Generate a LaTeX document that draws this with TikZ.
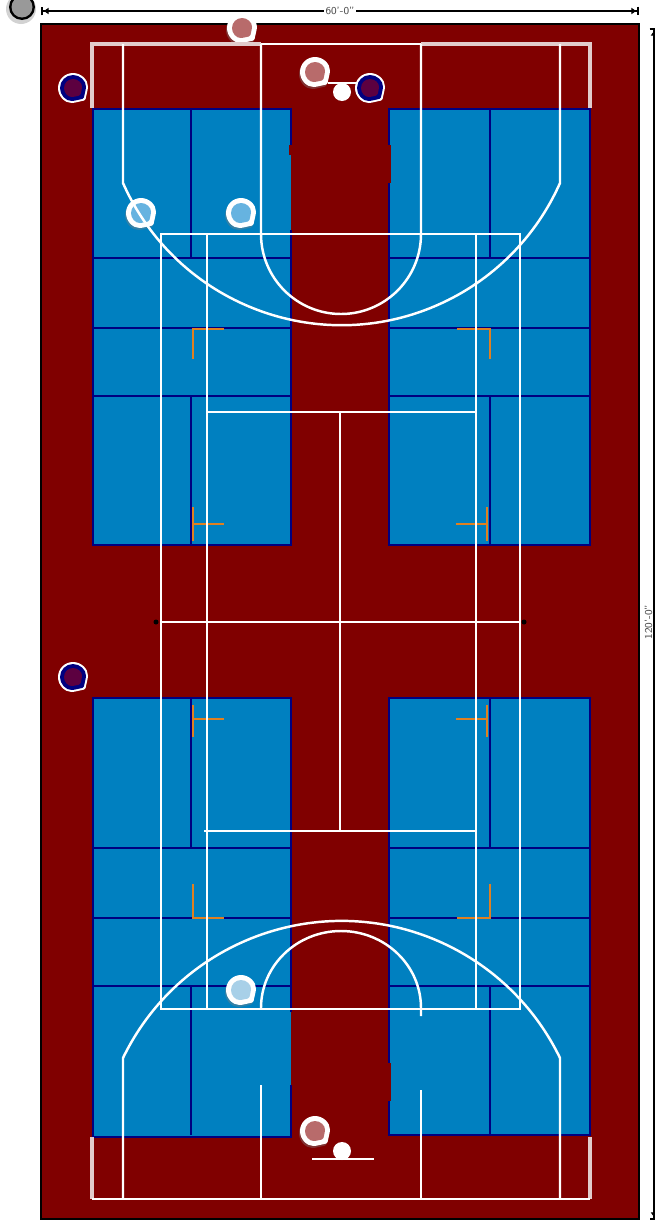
\documentclass[tikz,border=0pt]{standalone}
\usetikzlibrary{arrows.meta, positioning, calc}
\usepackage{xcolor}
\definecolor{courtcolor}{RGB}{128,0,0}
\definecolor{zonecolor}{RGB}{0,128,192}
\definecolor{zoneborder}{RGB}{0,0,128}
\definecolor{markcolor}{RGB}{224,128,32}
\definecolor{palecolor}{RGB}{226,204,204}
\definecolor{pinkcolor}{RGB}{184,107,107}
\definecolor{skycolor}{RGB}{102,179,224}
\definecolor{icecolor}{RGB}{168,208,232}
\definecolor{plumcolor}{RGB}{92,0,64}
\tikzset{
    zone/.style={fill=zonecolor},
    zoneline/.style={draw=zoneborder, line width=1.4pt},
    whiteline/.style={draw=white, line width=1.4pt},
    paleline/.style={draw=palecolor, line width=2pt},
    floormark/.style={draw=markcolor, line width=1.5pt},
    dimline/.style={draw=black, line width=1.3pt, {Bar[width=5pt]Latex[length=3pt,width=4pt]}-{Latex[length=3pt,width=4pt]Bar[width=5pt]}},
    dimlabel/.style={fill=white, inner sep=0.6pt, font=\sffamily\fontsize{6}{6.5}\selectfont, text=black!70},
    pics/tear/.style n args={2}{code={
        \fill[#2, rounded corners=0.8pt] (0,#1) arc[start angle=90, end angle=360, radius=#1] -- ({0.82*#1},{0.82*#1}) -- cycle;
    }}
}

\begin{document}
\begin{tikzpicture}[x=0.02cm, y=-0.02cm]
    \useasboundingbox (0,0) rectangle (655,1224);

    % Layer 1: court floor and dimensions
    \draw[fill=courtcolor, draw=black, line width=1.4pt] (41,24) rectangle (639,1219);
    \coordinate (dimTopL) at (41,11);
    \coordinate (dimTopR) at (639,11);
    \coordinate (dimSideT) at (654,28);
    \coordinate (dimSideB) at (654,1220);
    \draw[dimline] (dimTopL) -- node[dimlabel] (lblWidth) {60'-0"} (dimTopR);
    \draw[dimline] (dimSideT) -- (dimSideB);
    \node[dimlabel, rotate=90] (lblLength) at (648.5,622) {120'-0"};

    % Layer 2: blue zones
    \fill[zone] (93,109) rectangle (291,545);
    \fill[zone] (389,109) rectangle (590,545);
    \fill[zone] (93,698) rectangle (291,1137);
    \fill[zone] (389,698) rectangle (590,1135);

    % top zones, edges
    \draw[zoneline] (291,145) -- (291,109) -- (93,109) -- (93,545) -- (291,545) -- (291,230);
    \draw[zoneline] (389,145) -- (389,109) -- (590,109) -- (590,545) -- (389,545) -- (389,183);
    % bottom zones, edges
    \draw[zoneline] (291,1012) -- (291,698) -- (93,698) -- (93,1137) -- (291,1137) -- (291,1085);
    \draw[zoneline] (389,1063) -- (389,698) -- (590,698) -- (590,1135) -- (389,1135) -- (389,1101);
    % notches
    \fill[courtcolor] (289,145) rectangle (293,155);
    \fill[courtcolor] (387,145) rectangle (390.5,183);
    \fill[courtcolor] (387,1063) rectangle (390.5,1101);

    % inner zone lines
    \foreach \yy in {258,328,396,848,918,986} {
        \draw[zoneline] (93,\yy) -- (291,\yy);
        \draw[zoneline] (389,\yy) -- (590,\yy);
    }
    \foreach \xx in {191,490} {
        \draw[zoneline] (\xx,109) -- (\xx,258);
        \draw[zoneline] (\xx,396) -- (\xx,545);
        \draw[zoneline] (\xx,698) -- (\xx,848);
        \draw[zoneline] (\xx,986) -- (\xx,1135);
    }

    % Layer 3: orange marks
    \draw[floormark] (224,329) -- (193,329) -- (193,359);
    \draw[floormark] (457,329) -- (490,329) -- (490,359);
    \draw[floormark] (193,884) -- (193,918) -- (224,918);
    \draw[floormark] (490,884) -- (490,918) -- (457,918);
    \draw[floormark] (193,507) -- (193,541);
    \draw[floormark] (193,524) -- (224,524);
    \draw[floormark] (487,507) -- (487,541);
    \draw[floormark] (487,524) -- (456,524);
    \draw[floormark] (193,705) -- (193,737);
    \draw[floormark] (193,719) -- (224,719);
    \draw[floormark] (487,705) -- (487,737);
    \draw[floormark] (487,719) -- (456,719);

    % Layer 4: markers
    \foreach \mx/\my/\mfill in {315/72/pinkcolor, 242/28/pinkcolor, 315/1131/pinkcolor,
                                141/213/skycolor, 241/213/skycolor, 241/990/icecolor} {
        \pic at (\mx-1,\my+2) {tear={15}{black!50, opacity=0.4}};
        \pic at (\mx,\my) {tear={15}{white}};
        \pic at (\mx,\my) {tear={10}{\mfill}};
    }
    \foreach \mx/\my in {73/88, 370/88, 73/677} {
        \pic at (\mx,\my) {tear={15}{white}};
        \pic at (\mx,\my) {tear={13}{zoneborder}};
        \pic at (\mx,\my) {tear={9}{plumcolor}};
    }
    \fill[black!35, opacity=0.5] (21,9) circle (15);
    \fill[black] (22,7) circle (13);
    \fill[black!40] (22,7) circle (10.5);

    % Layer 5: white court lines
    \draw[paleline] (92,108) -- (92,44) -- (261,44);
    \draw[paleline] (421,44) -- (590,44) -- (590,108);
    \draw[paleline] (92,1137) -- (92,1199);
    \draw[paleline] (590,1137) -- (590,1199);
    \draw[whiteline] (261,44) -- (421,44);
    \draw[whiteline] (92,1199) -- (590,1199);

    \draw[whiteline] (123,44) -- (123,183) arc[start angle=156.1, end angle=23.9, radius=239] -- (560,44);
    \draw[whiteline] (123,1199) -- (123,1058) arc[start angle=205.8, end angle=334.2, radius=242.7] -- (560,1199);
    \draw[whiteline] (261,44) -- (261,234) arc[start angle=180, end angle=0, radius=80] -- (421,44);
    \draw[whiteline] (261,1008) arc[start angle=180, end angle=360, x radius=80, y radius=77] -- (421,1016);
    \draw[whiteline] (261,1085) -- (261,1199);
    \draw[whiteline] (421,1090) -- (421,1199);

    \draw[whiteline] (161,234) rectangle (520,1009);
    \draw[whiteline] (207,234) -- (207,1009);
    \draw[whiteline] (476,234) -- (476,1009);
    \draw[whiteline] (207,412) -- (476,412);
    \draw[whiteline] (204,831) -- (476,831);
    \draw[whiteline] (340,412) -- (340,831);
    \draw[whiteline] (161,622) -- (520,622);
    \fill[black] (156,622) circle (2.5);
    \fill[black] (524,622) circle (2.5);

    % Layer 6: hoops
    \draw[whiteline] (328,83) -- (358,83);
    \fill[white] (342,92) circle (9);
    \draw[whiteline] (312,1159) -- (374,1159);
    \fill[white] (342,1151) circle (9);
\end{tikzpicture}
\end{document}
